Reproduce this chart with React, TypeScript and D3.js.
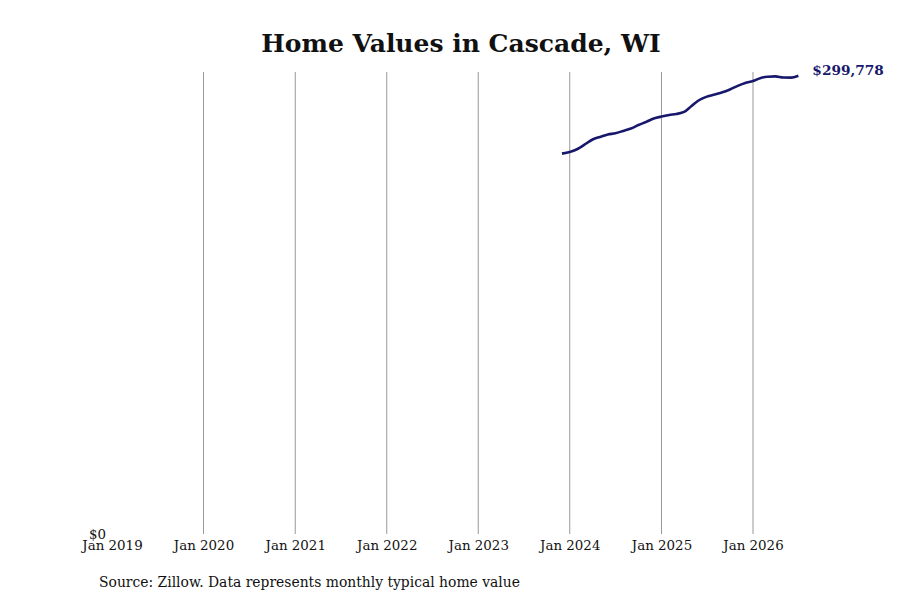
import * as React from 'react'
import { useEffect, useRef } from 'react'
import * as d3 from 'd3'

// monthly typical home value, Dec 2023 .. Jul 2026
const startMonth = new Date(2023, 11, 1)
const homeValues = [
  248900, 250000, 251900, 254900, 258100, 259800, 261400, 262200, 263700, 265300,
  267600, 269600, 271800, 273100, 274100, 274800, 276100, 280000, 283900, 286100,
  287500, 288900, 290800, 293100, 295000, 296300, 298300, 299100, 299300, 298600,
  298500, 299778,
]
const tickYears = [2019, 2020, 2021, 2022, 2023, 2024, 2025, 2026]

const title = 'Home Values in Cascade, WI'
const source = 'Source: Zillow. Data represents monthly typical home value'

const App = () => {
  const chartRef = useRef(null)
  const width = 900
  const height = 600

  useEffect(() => {
    const svg = d3.select(chartRef.current)
    svg.selectAll('*').remove()

    const data = homeValues.map((v, i) => ({
      date: d3.timeMonth.offset(startMonth, i),
      value: v,
    }))

    const xScale = d3.scaleTime()
      .domain([new Date(2019, 0, 1), new Date(2026, 0, 1)])
      .range([112, 753])

    const yScale = d3.scaleLinear()
      .domain([0, d3.max(data, d => d.value) * 1.008])
      .range([535, 72])

    svg.append('rect')
      .attr('width', width)
      .attr('height', height)
      .attr('fill', 'white')

    // vertical grid
    svg.append('g')
      .selectAll('line')
      .data(tickYears.slice(1))
      .enter()
      .append('line')
      .attr('x1', d => xScale(new Date(d, 0, 1)))
      .attr('x2', d => xScale(new Date(d, 0, 1)))
      .attr('y1', 72)
      .attr('y2', 534)
      .attr('stroke', '#999')
      .attr('stroke-width', 1)

    const xAxis = d3.axisBottom(xScale)
      .tickValues(tickYears.map(y => new Date(y, 0, 1)))
      .tickFormat(d => d3.timeFormat('Jan %Y')(d))
      .tickSize(0)
      .tickPadding(5)

    const xg = svg.append('g')
      .attr('transform', 'translate(0, 535)')
      .call(xAxis)
    xg.select('.domain').remove()
    xg.selectAll('text')
      .style('font-family', 'DejaVu Serif, serif')
      .style('font-size', '13.4px')
      .attr('fill', '#111')

    svg.append('text')
      .attr('x', 106)
      .attr('y', yScale(0) + 4)
      .attr('text-anchor', 'end')
      .style('font-family', 'DejaVu Serif, serif')
      .style('font-size', '13.4px')
      .attr('fill', '#111')
      .text('$0')

    const line = d3.line()
      .x(d => xScale(d.date))
      .y(d => yScale(d.value))
      .curve(d3.curveMonotoneX)

    svg.append('path')
      .datum(data)
      .attr('d', line)
      .attr('fill', 'none')
      .attr('stroke', '#17176b')
      .attr('stroke-width', 2.6)

    const last = data[data.length - 1]
    svg.append('text')
      .attr('x', xScale(last.date) + 14)
      .attr('y', yScale(last.value) - 1)
      .style('font-family', 'DejaVu Serif, serif')
      .style('font-size', '13.7px')
      .style('font-weight', 'bold')
      .attr('fill', '#17176b')
      .text(d3.format('$,')(last.value))

    svg.append('text')
      .attr('x', 461)
      .attr('y', 52)
      .attr('text-anchor', 'middle')
      .style('font-family', 'DejaVu Serif, serif')
      .style('font-size', '25px')
      .style('font-weight', 'bold')
      .attr('fill', '#111')
      .text(title)

    svg.append('text')
      .attr('x', 99)
      .attr('y', 587)
      .style('font-family', 'DejaVu Serif, serif')
      .style('font-size', '13.9px')
      .attr('fill', '#111')
      .text(source)
  }, [])

  return (
    <svg
      ref={chartRef}
      width={width}
      height={height}
      style={{ position: 'absolute', left: 0, top: 0 }}
    ></svg>
  )
}

export default App
